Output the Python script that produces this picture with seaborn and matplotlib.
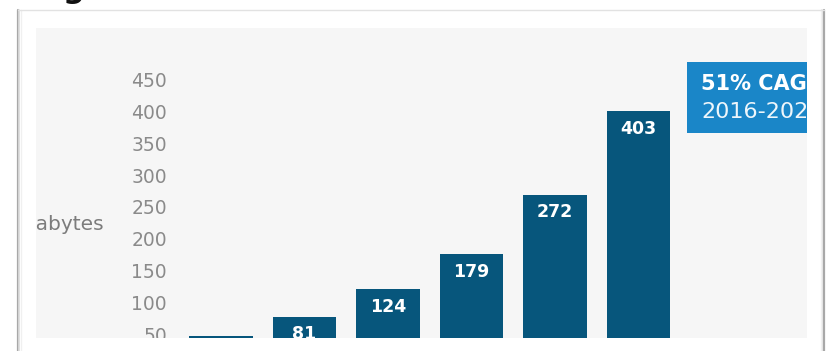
import matplotlib
matplotlib.use("Agg")
import matplotlib.pyplot as plt
from matplotlib.patches import Rectangle
from matplotlib.lines import Line2D
import seaborn as sns
import pandas as pd

# Monthly traffic, exabytes
years = ["2016", "2017", "2018", "2019", "2020", "2021"]
traffic = [51, 81, 124, 179, 272, 403]
tick_values = [50, 100, 150, 200, 250, 300, 350, 400, 450]
axis_label = "Exabytes"
cagr_line1 = "51% CAGR"
cagr_line2 = "2016-2021"
heading = "g"

BAR = "#07567c"
BOX = "#1a86c8"
PANEL = "#f6f6f6"
TICK = "#8a8a8a"

sns.set_theme(style="white")
plt.rcParams["font.family"] = ["DejaVu Sans"]

W, H = 829, 351
fig = plt.figure(figsize=(W / 100, H / 100), dpi=100)
fig.patch.set_facecolor("white")

def fx(px):
    return px / W

def fy(py):
    return 1 - py / H

# heading text, mostly above the canvas
fig.text(fx(63), fy(-1.5), heading, ha="left", va="baseline",
         fontsize=22, fontweight="bold", color="#111111")

# card outline with a soft shadow
for off, col, lw in [(0, "#a8a8a8", 1.6), (1.5, "#dcdcdc", 1.2), (3, "#f0f0f0", 1.0)]:
    fig.add_artist(Line2D([fx(18 + off)] * 2, [fy(10), fy(H + 5)],
                          transform=fig.transFigure, color=col, lw=lw))
    fig.add_artist(Line2D([fx(824 - off)] * 2, [fy(10), fy(H + 5)],
                          transform=fig.transFigure, color=col, lw=lw))
fig.add_artist(Line2D([fx(18), fx(824)], [fy(10), fy(10)],
                      transform=fig.transFigure, color="#e2e2e2", lw=1.0))

# chart panel
left, right, top, bottom = 36, 807, 28, 338
ax = fig.add_axes([fx(left), fy(bottom), fx(right - left), (bottom - top) / H])
ax.set_facecolor(PANEL)

df = pd.DataFrame({"year": years, "traffic": traffic})
sns.barplot(data=df, x="year", y="traffic", order=years, color=BAR,
            saturation=1, width=0.76, linewidth=0, ax=ax)

ax.set_xlim(-2.216, 7.017)
ax.set_ylim(47.8, 533.7)
ax.set_xticks([])
ax.set_yticks([])
ax.set_xlabel("")
ax.set_ylabel("")
for s in ax.spines.values():
    s.set_visible(False)

# value labels inside the bar tops
for i, v in enumerate(traffic):
    ax.annotate(str(v), (i, v), xytext=(0, -6), textcoords="offset points",
                ha="center", va="top", color="white", fontsize=12.5,
                fontweight="bold", annotation_clip=False, clip_on=True)

# y tick labels
ytr = ax.get_yaxis_transform()
for t in tick_values:
    ax.text(0.170, t, str(t), transform=ytr, ha="right", va="center",
            fontsize=13.5, color=TICK, clip_on=True)

# axis title, partly outside the panel
ax.text(0.0875, (bottom - 225) / (bottom - top), axis_label, transform=ax.transAxes,
        ha="right", va="center", fontsize=14.5, color="#7c7c7c", clip_on=True)

# growth callout
ax.add_patch(Rectangle((0.8444, 0.6613), 0.25, 0.229, transform=ax.transAxes,
                       facecolor=BOX, edgecolor="none", clip_on=True, zorder=3))
ax.text(0.8625, 0.800, cagr_line1, transform=ax.transAxes, ha="left", va="baseline",
        fontsize=15, fontweight="bold", color="white", clip_on=True, zorder=4)
ax.text(0.8625, 0.7097, cagr_line2, transform=ax.transAxes, ha="left", va="baseline",
        fontsize=16, color="#eef6fb", clip_on=True, zorder=4)

fig.savefig("out.png", dpi=100, facecolor="white")
